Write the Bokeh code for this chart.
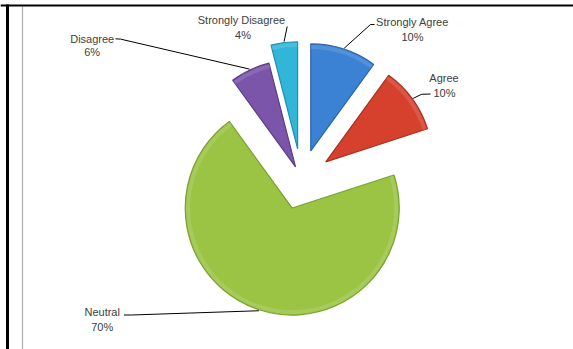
import numpy as np
from bokeh.plotting import figure
from bokeh.models import Range1d, ColumnDataSource
from bokeh.core.properties import value
from bokeh.embed import file_html
from bokeh.resources import INLINE

# ---- data ----
categories = ["Strongly Agree", "Agree", "Neutral", "Disagree", "Strongly Disagree"]
percentages = [10, 10, 70, 6, 4]

# ---- style ----
colors = ["#3b82d4", "#d6412e", "#9bc444", "#7a55aa", "#31b5d8"]
edge_colors = ["#2a64ad", "#a83222", "#78a12e", "#5a3d85", "#1f8fae"]
explode = [30, 30, 30, 14, 31]

W, H = 573, 349
cx, cy = 301.0, H - 179.0
R = 107.0

frac = np.array(percentages, dtype=float) / sum(percentages)
cum = np.concatenate([[0.0], np.cumsum(frac)])
start = np.pi / 2 - 2 * np.pi * cum[1:]
end = np.pi / 2 - 2 * np.pi * cum[:-1]
mid = (start + end) / 2
ox = cx + np.array(explode) * np.cos(mid)
oy = cy + np.array(explode) * np.sin(mid)

src = ColumnDataSource(dict(x=ox, y=oy, start=start, end=end, color=colors,
                            edge=edge_colors, cat=categories))

p = figure(width=W, height=H, x_range=Range1d(0, W), y_range=Range1d(0, H),
           output_backend="svg", toolbar_location=None, min_border=0,
           x_axis_location=None, y_axis_location=None)
p.grid.visible = False
p.outline_line_color = None
p.background_fill_color = "white"
p.border_fill_color = "white"

# frame decorations (pixel coords from top)
def Y(v):
    return H - v

p.segment(x0=[22], y0=[Y(6)], x1=[22], y1=[Y(349)], line_color="#b0b0b0", line_width=1.2)
p.segment(x0=[0], y0=[Y(5)], x1=[W], y1=[Y(5)], line_color="black", line_width=2.2)
p.segment(x0=[7], y0=[Y(4)], x1=[7], y1=[Y(349)], line_color="black", line_width=3)

# wedges
p.wedge(x="x", y="y", radius=R, start_angle="start", end_angle="end",
        fill_color="color", line_color="edge", line_width=1.2, source=src)
# subtle bevel highlight near rim
p.annular_wedge(x="x", y="y", inner_radius=R - 5, outer_radius=R - 1,
                start_angle="start", end_angle="end", fill_color="white",
                fill_alpha=0.12, line_color=None, source=src)

# label layout: (name_x, name_y, pct_x, pct_y, anchor points list) in pixel coords from top
label_layout = {
    "Strongly Agree": (412, 21, 412, 36.5, [(374, 24), (370, 24)]),
    "Agree": (443.5, 77, 444, 92.5, [(430, 93.5), (421, 93.8)]),
    "Neutral": (101.7, 311.5, 101.7, 326, [(123.5, 314.5), (131, 314.5)]),
    "Disagree": (91.7, 38.3, 91.7, 51.7, [(115, 38.3), (120, 38.6)]),
    "Strongly Disagree": (241, 19, 242.5, 34, [(286.7, 26)]),
}

xs, ys = [], []
nx, ny, px, py, ntext, ptext = [], [], [], [], [], []
for i, cat in enumerate(categories):
    lx, lyn, lpx, lpy, anchors = label_layout[cat]
    nx.append(lx); ny.append(Y(lyn)); ntext.append(cat)
    px.append(lpx); py.append(Y(lpy)); ptext.append(f"{percentages[i]}%")
    ax = ox[i] + (R + 1) * np.cos(mid[i])
    ay = oy[i] + (R + 1) * np.sin(mid[i])
    xs.append([a[0] for a in anchors] + [ax])
    ys.append([Y(a[1]) for a in anchors] + [ay])

p.multi_line(xs=xs, ys=ys, line_color="black", line_width=1)

font = value("Liberation Sans")
p.text(x=nx, y=ny, text=ntext, text_font=font, text_font_size="11px",
       text_color="#404040", text_align="center", text_baseline="middle")
p.text(x=px, y=py, text=ptext, text_font=font, text_font_size="11px",
       text_color="#404040", text_align="center", text_baseline="middle")

open("out.html", "w").write(file_html(p, INLINE))
